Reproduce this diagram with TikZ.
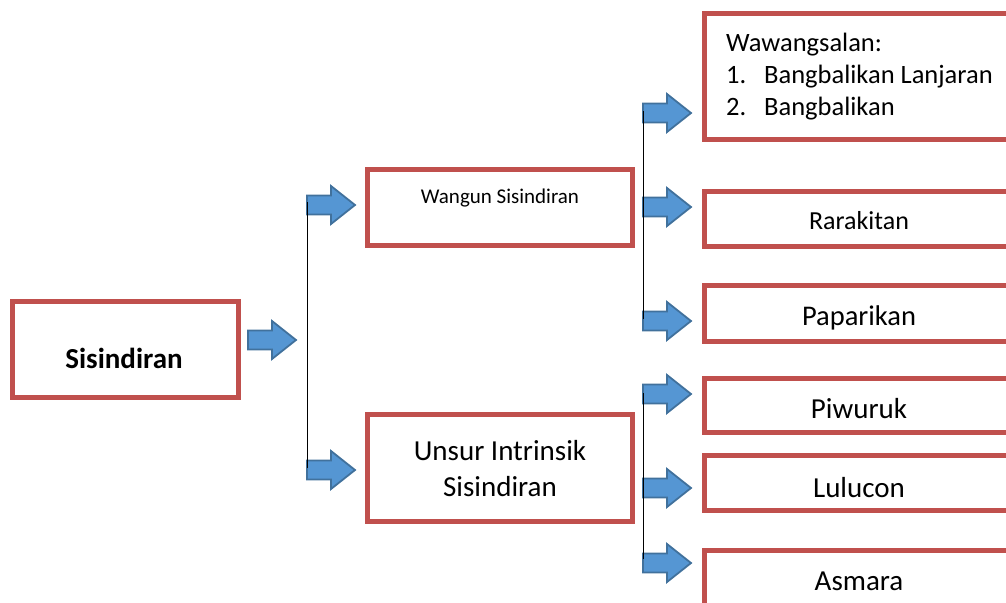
\documentclass[tikz,border=0pt]{standalone}
\usepackage{fontspec}
\setmainfont{Carlito}
\usetikzlibrary{fit}
\definecolor{boxred}{HTML}{C0504D}
\definecolor{arrfill}{HTML}{5596D3}
\definecolor{arrdraw}{HTML}{41719C}
\tikzset{
  box/.style={draw=boxred, line width=5pt, inner sep=0pt, fill=white},
  lbl/.style={inner sep=0pt, anchor=base, text=black},
  conn/.style={draw=black, line width=1.6pt},
  barrow/.pic={
    \draw[fill=arrfill, draw=arrdraw, line width=1.8pt, line join=miter]
      (0,-9.5) -- (24,-9.5) -- (24,-19) -- (48,0) -- (24,19) -- (24,9.5) -- (0,9.5) -- cycle;
    \coordinate (-tail) at (0.5,0);
  }
}
\begin{document}
\begin{tikzpicture}[x=1pt,y=-1pt]
\path[use as bounding box] (0,0) rectangle (1006,602);
\clip (0,0) rectangle (1006,602);

% boxes
\node[box, fit={(12.5,301.5)(238.5,397.5)}] (sis) {};
\node[box, fit={(367.5,169.5)(632.5,245.5)}] (wan) {};
\node[box, fit={(367.5,414.5)(632.5,521.5)}] (uns) {};
\node[box, fit={(704.5,13.5)(1015,139.5)}] (waw) {};
\node[box, fit={(704.5,191.5)(1015,246.5)}] (rar) {};
\node[box, fit={(704.5,285.5)(1015,341.5)}] (pap) {};
\node[box, fit={(704.5,378.5)(1015,432.5)}] (piw) {};
\node[box, fit={(704.5,455.5)(1015,510.5)}] (lul) {};
\node[box, fit={(704.5,550.5)(1015,620)}] (asm) {};

% texts
\node[lbl, font=\fontsize{29}{35}\selectfont\bfseries] (sist) at (124,368) {Sisindiran};
\node[lbl, font=\fontsize{21}{25}\selectfont] (want) at (500,203) {Wangun Sisindiran};
\node[lbl, font=\fontsize{29}{35}\selectfont] (unst1) at (500,460) {Unsur Intrinsik};
\node[lbl, font=\fontsize{29}{35}\selectfont] (unst2) at (500,496) {Sisindiran};
\node[lbl, anchor=base west, font=\fontsize{26.5}{32}\selectfont] (wawt) at (726,52) {Wawangsalan:};
\node[lbl, anchor=base west, font=\fontsize{26.5}{32}\selectfont] (wawn1) at (726,83) {1.};
\node[lbl, anchor=base west, font=\fontsize{26.5}{32}\selectfont] (wawi1) at (764,83) {Bangbalikan Lanjaran};
\node[lbl, anchor=base west, font=\fontsize{26.5}{32}\selectfont] (wawn2) at (726,115) {2.};
\node[lbl, anchor=base west, font=\fontsize{26.5}{32}\selectfont] (wawi2) at (764,115) {Bangbalikan};
\node[lbl, font=\fontsize{26}{31}\selectfont] (rart) at (859,229) {Rarakitan};
\node[lbl, font=\fontsize{28.5}{34}\selectfont] (papt) at (859,325) {Paparikan};
\node[lbl, font=\fontsize{29}{35}\selectfont] (piwt) at (859,418) {Piwuruk};
\node[lbl, font=\fontsize{29}{35}\selectfont] (lult) at (859,497) {Lulucon};
\node[lbl, font=\fontsize{29}{35}\selectfont] (asmt) at (859,590) {Asmara};

% block arrows
\pic (a0) at (248,340) {barrow};
\pic (a1) at (307,205) {barrow};
\pic (a2) at (307,470) {barrow};
\pic (b1) at (643,113) {barrow};
\pic (b2) at (643,207) {barrow};
\pic (b3) at (643,321) {barrow};
\pic (c1) at (643,394) {barrow};
\pic (c2) at (643,488) {barrow};
\pic (c3) at (643,563) {barrow};

% connector lines
\draw[conn] ([yshift=3pt]a1-tail) -- ([yshift=2pt]a2-tail);
\draw[conn] ([yshift=2pt]b1-tail) -- ([yshift=2pt]b3-tail);
\draw[conn] ([yshift=1pt]c1-tail) -- ([yshift=4pt]c3-tail);
\end{tikzpicture}
\end{document}
